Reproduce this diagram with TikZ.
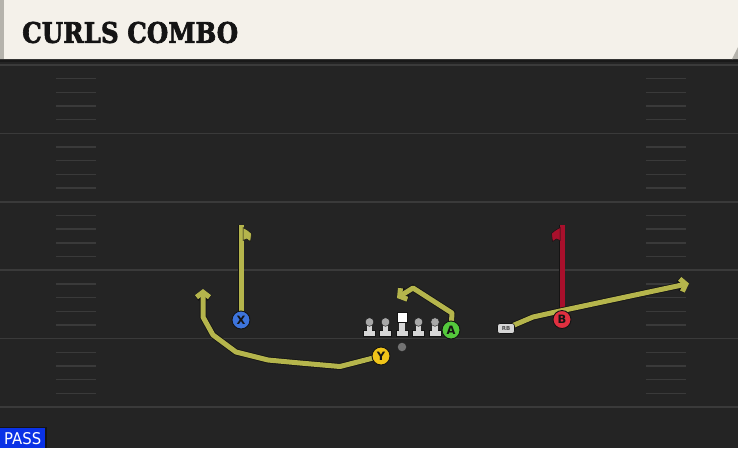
\documentclass[tikz,border=0pt]{standalone}
\usepackage{fontspec}
\usetikzlibrary{arrows.meta}
\newfontfamily\titlefont[BoldFeatures={FakeBold=2.5}]{DejaVu Serif}
\newfontfamily\labfont{DejaVu Sans}
\definecolor{field}{HTML}{242424}
\definecolor{yard}{HTML}{3A3A3A}
\definecolor{hdr}{HTML}{F4F1EA}
\definecolor{hdrside}{HTML}{B5B3AC}
\definecolor{rtY}{HTML}{B5B54C}
\definecolor{rtR}{HTML}{A8102C}
\definecolor{cX}{HTML}{3D74DC}
\definecolor{cY}{HTML}{F0C419}
\definecolor{cA}{HTML}{54C83C}
\definecolor{cB}{HTML}{E03040}
\definecolor{passblue}{HTML}{0A32E6}
\definecolor{olhead}{HTML}{A8A8A8}
\definecolor{olbody}{HTML}{D6D6D6}
\definecolor{outl}{HTML}{141414}
\pgfdeclarelayer{fieldlayer}
\pgfdeclarelayer{routelayer}
\pgfsetlayers{fieldlayer,routelayer,main}
\begin{document}
\begin{tikzpicture}[x=1pt,y=-1pt,
  yardline/.style={draw=yard, line width=1.6pt},
  hashline/.style={draw=yard, line width=1.4pt},
  route/.style={line width=5pt, line join=round, preaction={draw=outl, line width=6.6pt}},
  tipped/.style={-{Straight Barb[length=5pt,width=13pt]}},
  player/.style={circle, minimum size=18pt, inner sep=0pt, draw=outl, line width=0.9pt,
    font=\labfont\bfseries\fontsize{11.5}{11.5}\selectfont, text=outl},
  lineman/.pic={
    \fill[olbody, draw=outl, line width=0.4pt] (-6,8) rectangle (6,14);
    \fill[olbody] (-2.8,0) rectangle (2.8,9);
    \fill[olhead, draw=outl, line width=0.4pt] (0,0) circle (4.3);
  },
  center/.pic={
    \fill[olbody, draw=outl, line width=0.4pt] (-6,8) rectangle (6,14);
    \fill[olbody] (-2.8,-1) rectangle (2.8,9);
    \fill[white, draw=outl, line width=0.4pt] (-4.8,-9.5) rectangle (4.8,0);
  }]
\useasboundingbox (0,0) rectangle (738,448);

\begin{pgfonlayer}{fieldlayer}
  \fill[field] (0,0) rectangle (738,448);
  \foreach \i in {0,...,5} {
    \draw[yardline] (0,65+68.4*\i) -- (738,65+68.4*\i);
  }
  \foreach \i in {0,...,4} {
    \foreach \k in {1,...,4} {
      \draw[hashline] (56,65+68.4*\i+13.68*\k) -- (96,65+68.4*\i+13.68*\k);
      \draw[hashline] (646,65+68.4*\i+13.68*\k) -- (686,65+68.4*\i+13.68*\k);
    }
  }
  % header
  \fill[black!90] (0,58) rectangle (738,62);
  \fill[hdr] (0,0) -- (738,0) -- (738,49) -- (733,59) -- (0,59) -- cycle;
  \fill[hdrside] (738,47) -- (738,59) -- (732,59) -- cycle;
  \fill[hdrside] (0,0) rectangle (4,59);
\end{pgfonlayer}

\node[anchor=west, inner sep=0pt, text=outl] (title) at (22,32.5)
  {\resizebox{216pt}{21pt}{\titlefont\bfseries CURLS COMBO}};

% players
\node[player, fill=cX] (X) at (241,320) {X};
\node[player, fill=cY] (Y) at (381,356) {Y};
\node[player, fill=cA] (A) at (451,330) {A};
\node[player, fill=cB] (B) at (562,319.5) {B};
\node[draw=outl, fill=olbody, rounded corners=2.5pt, minimum width=17pt, minimum height=10pt,
  inner sep=0pt, line width=0.6pt, font=\labfont\bfseries\fontsize{5.5}{5.5}\selectfont, text=black!70] (RB) at (506,328.5) {RB};
\node[circle, fill=black!55, minimum size=8.5pt, inner sep=0pt] (QB) at (402,347) {};

% offensive line
\pic at (369.5,322) {lineman};
\pic at (385.5,322) {lineman};
\pic at (402,322) {center};
\pic at (418.5,322) {lineman};
\pic at (435,322) {lineman};

% routes
\begin{pgfonlayer}{routelayer}
  \coordinate (Xtop) at (241,225);
  \coordinate (Btop) at (562,225);
  \draw[route, rtY] (X.center) -- (Xtop);
  \fill[rtY, draw=outl, line width=0.5pt] (243,227.5) -- (248,230.5) -- (251.5,233.5) -- (250.5,241.5) -- (246.5,239) -- (243,240.5) -- cycle;
  \draw[route, rtR] (B.center) -- (Btop);
  \fill[rtR, draw=outl, line width=0.5pt] (560,227.5) -- (555,230.5) -- (551.5,233.5) -- (552.5,241.5) -- (556.5,239) -- (560,240.5) -- cycle;
  \draw[route, rtY, tipped] (Y.center) -- (340,366.5) -- (300,363) -- (268,360) -- (236,352) -- (213,335) -- (203,317) -- (203,289);
  \draw[route, rtY, tipped] (A.center) -- (452,313) -- (413,288) -- (397,298);
  \draw[route, rtY, tipped] (RB.center) -- (533,317) -- (560,311) -- (689,283.5);
\end{pgfonlayer}

% pass badge
\fill[outl] (0,426.5) rectangle (47,448);
\node[fill=passblue, anchor=north west, minimum width=45pt, minimum height=20pt, inner sep=0pt] (pass) at (0,428) {};
\node[inner sep=0pt, text=white] (passtext) at (pass.center) {\resizebox{37pt}{12pt}{\labfont PASS}};
\end{tikzpicture}
\end{document}
